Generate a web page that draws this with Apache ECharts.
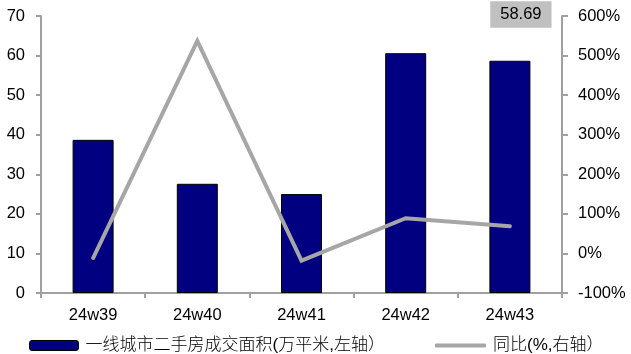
<!DOCTYPE html>
<html>
<head>
<meta charset="utf-8">
<style>
  html, body { margin: 0; padding: 0; background: #fff; }
  #chart { width: 631px; height: 354px; }
</style>
<script src="https://cdn.jsdelivr.net/npm/echarts@6/dist/echarts.min.js"></script>
</head>
<body>
<div id="chart"></div>
<script>
// Weekly second-hand housing transaction area in tier-1 cities, with YoY change
const weeks = ['24w39', '24w40', '24w41', '24w42', '24w43'];
const areaValues = [38.7, 27.6, 25.0, 60.6, 58.69];   // 万平米
const yoyValues = [-11.6, 537, -18.4, 89, 68.9];      // %
const leftTicks = { min: 0, max: 70, interval: 10 };
const rightTicks = { min: -100, max: 600, interval: 100 };

const areaName = '一线城市二手房成交面积(万平米,左轴）';
const yoyName = '同比(%,右轴）';

const FONT = '"Liberation Sans", Arial, "Noto Sans CJK SC", sans-serif';
const CJK = '"Liberation Sans", "Noto Sans CJK SC", sans-serif';
const AXIS_GRAY = '#A0A0A0';
const LINE_GRAY = '#A6A6A6';
const TICK_FONT = 16.5;
const LAST = weeks.length - 1;

const chart = echarts.init(document.getElementById('chart'), null, { renderer: 'canvas' });

chart.setOption({
  animation: false,
  backgroundColor: '#ffffff',
  textStyle: { fontFamily: FONT },
  grid: { left: 41, right: 69, top: 16, bottom: 61, containLabel: false },
  legend: [
    {
      data: [areaName],
      left: 24, top: 332,
      itemWidth: 49, itemHeight: 10,
      itemGap: 0,
      itemStyle: { borderColor: '#000', borderWidth: 1 },
      textStyle: { fontFamily: CJK, fontSize: 17, fontWeight: 300, color: '#000', padding: [0, 0, 0, 2] }
    },
    {
      data: [{ name: yoyName, icon: 'roundRect' }],
      left: 430, top: 332,
      itemWidth: 51, itemHeight: 4,
      itemStyle: { color: LINE_GRAY },
      textStyle: { fontFamily: CJK, fontSize: 17, fontWeight: 300, color: '#000', padding: [0, 0, 0, 2] }
    }
  ],
  xAxis: {
    type: 'category',
    data: weeks,
    boundaryGap: true,
    axisLine: { lineStyle: { color: AXIS_GRAY, width: 2 } },
    axisTick: { show: true, length: 5, alignWithLabel: false, lineStyle: { color: AXIS_GRAY, width: 2 } },
    axisLabel: { color: '#000', fontSize: TICK_FONT, margin: 14, fontFamily: FONT },
    splitLine: { show: false }
  },
  yAxis: [
    {
      type: 'value',
      min: leftTicks.min, max: leftTicks.max, interval: leftTicks.interval,
      axisLine: { show: true, lineStyle: { color: AXIS_GRAY, width: 2 } },
      axisTick: { show: true, length: 5, lineStyle: { color: AXIS_GRAY, width: 2 } },
      axisLabel: { color: '#000', fontSize: TICK_FONT, margin: 16, fontFamily: FONT },
      splitLine: { show: false }
    },
    {
      type: 'value',
      min: rightTicks.min, max: rightTicks.max, interval: rightTicks.interval,
      position: 'right',
      axisLine: { show: true, lineStyle: { color: AXIS_GRAY, width: 2 } },
      axisTick: { show: true, length: 6, lineStyle: { color: AXIS_GRAY, width: 2 } },
      axisLabel: { color: '#000', fontSize: TICK_FONT, margin: 16, fontFamily: FONT, formatter: '{value}%' },
      splitLine: { show: false }
    }
  ],
  series: [
    {
      name: areaName,
      type: 'bar',
      yAxisIndex: 0,
      barWidth: 41,
      itemStyle: { color: '#000080', borderColor: '#000000', borderWidth: 1 },
      data: areaValues.map((v, i) => ({
        value: v,
        label: i === LAST ? {
          show: true,
          position: 'top',
          offset: [11, -28],
          formatter: () => v.toFixed(2),
          backgroundColor: '#C0C0C0',
          padding: [5, 10, 5, 10],
          color: '#000', fontSize: TICK_FONT, fontFamily: FONT
        } : { show: false }
      }))
    },
    {
      name: yoyName,
      type: 'line',
      yAxisIndex: 1,
      symbol: 'none',
      lineStyle: { color: LINE_GRAY, width: 4, cap: 'round', join: 'miter' },
      itemStyle: { color: LINE_GRAY },
      data: yoyValues.map((v, i) => ({
        value: v,
        label: i === LAST ? {
          show: true,
          position: 'bottom',
          distance: 5,
          offset: [-67, 0],
          formatter: () => v.toFixed(1) + '%',
          backgroundColor: '#C0C0C0',
          padding: [5, 10, 5, 10],
          color: '#000', fontSize: TICK_FONT, fontFamily: FONT
        } : { show: false }
      }))
    }
  ]
});
</script>
</body>
</html>
